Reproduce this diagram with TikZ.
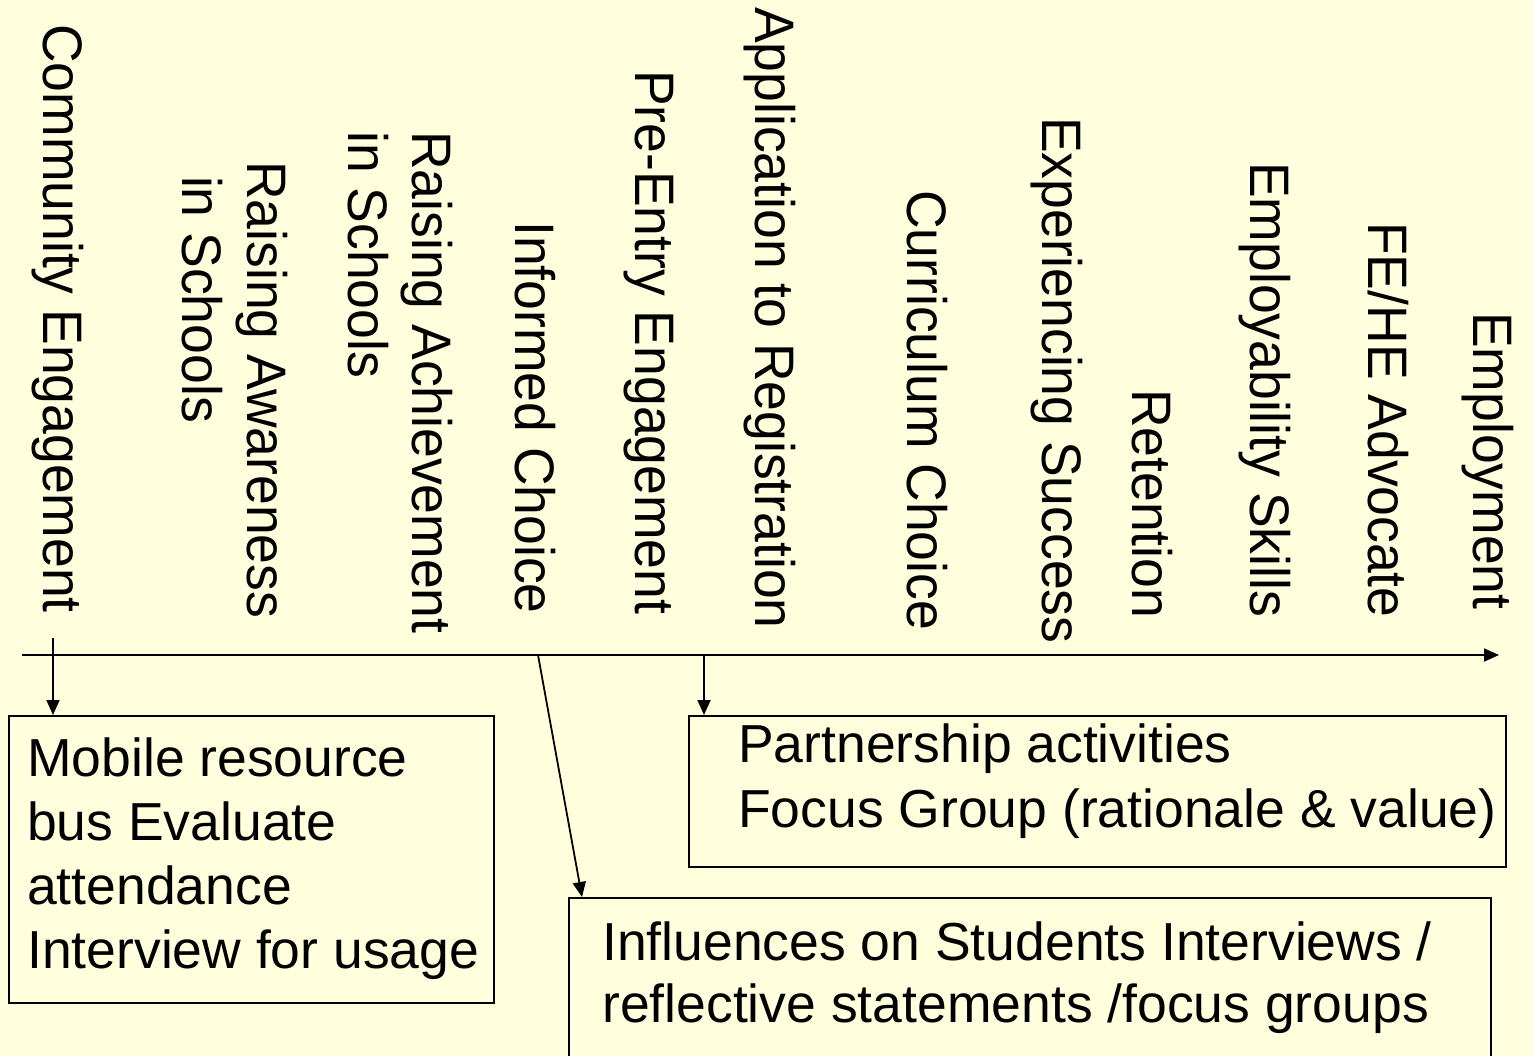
\documentclass[tikz,border=0pt]{standalone}
\usepackage{fontspec}
\usepackage{graphicx}
\setmainfont{Liberation Sans}
\usetikzlibrary{arrows.meta}
\definecolor{bg}{RGB}{255,255,222}
\newcommand{\tallx}[1]{\scalebox{1}[1.04]{#1}}
\begin{document}
\begin{tikzpicture}[x=1pt,y=-1pt,
  lab/.style={rotate=-90,anchor=base west,inner sep=0pt,font=\fontsize{53.5}{64}\selectfont},
  txt/.style={anchor=base west,inner sep=0pt,font=\fontsize{53.5}{64}\selectfont},
  box/.style={draw=black,line width=2pt,anchor=north west,inner sep=0pt},
  conn/.style={line width=1.8pt,-{Triangle[length=15pt,width=13pt]}}]
\fill[bg] (0,0) rectangle (1533,1056);
\useasboundingbox (0,0) rectangle (1533,1056);
\clip (0,0) rectangle (1533,1056);
% vertical stage labels
\node[lab] (l1) at (43,24) {\tallx{Community Engagement}};
\node[lab] (l2a) at (247,161) {\tallx{Raising Awareness}};
\node[lab] (l2b) at (182,161) {\tallx{\ in Schools}};
\node[lab] (l3a) at (412,131) {\tallx{Raising Achievement}};
\node[lab] (l3b) at (348,131) {\tallx{in Schools}};
\node[lab] (l4) at (515,221) {\tallx{Informed Choice}};
\node[lab] (l5) at (635,70) {\tallx{Pre-Entry Engagement}};
\node[lab] (l6) at (755,7) {\tallx{Application to Registration}};
\node[lab] (l7) at (907,190) {\tallx{Curriculum Choice}};
\node[lab] (l8) at (1042,117) {\tallx{Experiencing Success}};
\node[lab] (l9) at (1132,389) {\tallx{Retention}};
\node[lab] (l10) at (1250,162) {\tallx{Employability Skills}};
\node[lab] (l11) at (1368,222) {\tallx{FE/HE Advocate}};
\node[lab] (l12) at (1473,312) {\tallx{Employment}};
% boxes
\node[box,minimum width=485pt,minimum height=287pt] (b1) at (8,715) {};
\node[box,minimum width=817pt,minimum height=151pt] (b2) at (688,715) {};
\node[box,minimum width=922pt,minimum height=200pt] (b3) at (568,897) {};
% box texts
\node[txt] (t1a) at (27,776) {Mobile resource};
\node[txt] (t1b) at (27,840) {bus Evaluate};
\node[txt] (t1c) at (27,904) {attendance};
\node[txt] (t1d) at (27,968) {Interview for usage};
\node[txt] (t2a) at (738,762) {Partnership activities};
\node[txt] (t2b) at (738,827) {Focus Group (rationale \& value)};
\node[txt] (t3a) at (602,960) {Influences on Students Interviews /};
\node[txt] (t3b) at (602,1022) {reflective statements /focus groups};
% axis and connectors
\coordinate (ax0) at (22,655);
\coordinate (ax1) at (1499,655);
\coordinate (c1) at (53,638);
\coordinate (c2) at (538,655);
\coordinate (c2t) at (582,897);
\coordinate (c3) at (704,655);
\draw[conn] (ax0) -- (ax1);
\draw[conn] (c1) -- (c1 |- b1.north);
\draw[conn] (c2) -- (c2t);
\draw[conn] (c3) -- (c3 |- b2.north);
\end{tikzpicture}
\end{document}
